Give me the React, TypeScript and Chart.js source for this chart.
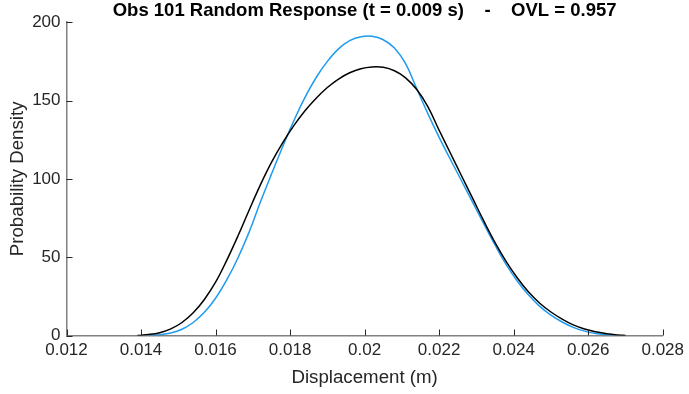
import React, { useEffect, useRef } from "react";
import { Chart, registerables } from "chart.js";

Chart.register(...registerables);

const titleText = "Obs 101 Random Response (t = 0.009 s)    -    OVL = 0.957";
const xLabel = "Displacement (m)";
const yLabel = "Probability Density";

const blackX = [0.0139, 0.0142, 0.0145, 0.0148, 0.0151, 0.0154, 0.0157, 0.016, 0.0163, 0.0166, 0.0169, 0.0172, 0.0175, 0.0178, 0.0181, 0.0184, 0.0187, 0.019, 0.0193, 0.0196, 0.0199, 0.0202, 0.0205, 0.0208, 0.0211, 0.0214, 0.0217, 0.022, 0.0223, 0.0226, 0.0229, 0.0232, 0.0235, 0.0238, 0.0241, 0.0244, 0.0247, 0.025, 0.0253, 0.0256, 0.0259, 0.0262, 0.0265, 0.0268, 0.027];
const blackY = [0, 0.6, 1.8, 4.2, 8.3, 14.5, 23, 34, 48, 63.5, 80, 96, 110.5, 123, 134, 143.5, 151.5, 158.3, 163.7, 167.7, 170.3, 171.4, 171.2, 169, 164.5, 157, 146, 131, 116.5, 102, 87.5, 73, 59.3, 47.2, 36.7, 27.7, 20.6, 15, 10.5, 6.8, 4.2, 2.4, 1.1, 0.3, 0];

const blueX = [0.0142, 0.0145, 0.0148, 0.0151, 0.0154, 0.0157, 0.016, 0.0163, 0.0166, 0.0169, 0.0172, 0.0175, 0.0178, 0.0181, 0.0184, 0.0187, 0.019, 0.0193, 0.0196, 0.0199, 0.0202, 0.0205, 0.0208, 0.0211, 0.0214, 0.0217, 0.022, 0.0223, 0.0226, 0.0229, 0.0232, 0.0235, 0.0238, 0.0241, 0.0244, 0.0247, 0.025, 0.0253, 0.0256, 0.0259, 0.0262, 0.0265, 0.0267];
const blueY = [0, 0.5, 1.6, 4, 8.3, 14.8, 23.8, 35.5, 49.5, 66, 85, 103, 120.5, 137, 152, 164.7, 175, 183, 188.2, 190.7, 191, 188.8, 183.5, 173.5, 157.5, 141.5, 126.5, 112.5, 98.8, 85, 71.2, 57.8, 45.2, 34.6, 25.8, 18.6, 13, 8.6, 5.2, 2.8, 1.3, 0.4, 0];

const FONT = "'Liberation Sans', Arial, Helvetica, sans-serif";
const AXIS_TEXT = "#262626";

const innerTicks = {
  id: "innerTicks",
  afterDatasetsDraw(chart: any) {
    const { ctx, scales } = chart;
    const xs = scales.x;
    const ys = scales.y;
    ctx.save();
    ctx.strokeStyle = AXIS_TEXT;
    ctx.lineWidth = 1;
    const yb = ys.getPixelForValue(0);
    xs.ticks.forEach((t: any) => {
      const px = Math.round(xs.getPixelForValue(t.value)) + 0.5;
      ctx.beginPath();
      ctx.moveTo(px, yb);
      ctx.lineTo(px, yb - 6);
      ctx.stroke();
    });
    const xl = xs.getPixelForValue(0.012);
    ys.ticks.forEach((t: any) => {
      const py = Math.round(ys.getPixelForValue(t.value)) + 0.5;
      ctx.beginPath();
      ctx.moveTo(xl, py);
      ctx.lineTo(xl + 6, py);
      ctx.stroke();
    });
    ctx.restore();
  },
};

export default function App() {
  const ref = useRef<HTMLCanvasElement | null>(null);
  useEffect(() => {
    document.body.style.margin = "0";
    const canvas = ref.current;
    if (!canvas) return;
    const chart = new Chart(canvas, {
      type: "scatter",
      data: {
        datasets: [
          {
            label: "black",
            data: blackX.map((x, i) => ({ x, y: blackY[i] })),
            showLine: true,
            borderColor: "#000000",
            borderWidth: 1.5,
            pointRadius: 0,
            tension: 0.4,
          },
          {
            label: "blue",
            data: blueX.map((x, i) => ({ x, y: blueY[i] })),
            showLine: true,
            borderColor: "#1f9bf0",
            borderWidth: 1.5,
            pointRadius: 0,
            tension: 0.4,
          },
        ],
      },
      options: {
        animation: false,
        responsive: false,
        maintainAspectRatio: false,
        layout: { padding: { left: 0, right: 24, top: 0, bottom: 0 } },
        plugins: {
          legend: { display: false },
          tooltip: { enabled: false },
          title: {
            display: true,
            fullSize: false,
            text: titleText,
            color: "#000000",
            font: { family: FONT, size: 18.5, weight: "bold", lineHeight: 1.2 },
            padding: { top: 0, bottom: 0 },
          },
        },
        scales: {
          x: {
            type: "linear",
            min: 0.012,
            max: 0.028,
            grid: { display: false, drawTicks: false },
            border: { display: true, color: "#808080", width: 1.5 },
            ticks: {
              stepSize: 0.002,
              color: AXIS_TEXT,
              font: { family: FONT, size: 17 },
              padding: 5,
              maxRotation: 0,
              autoSkip: false,
              callback: (v: any) => parseFloat(Number(v).toFixed(3)).toString(),
            },
            title: {
              display: true,
              text: xLabel,
              color: AXIS_TEXT,
              font: { family: FONT, size: 18.7 },
              padding: { top: 0, bottom: 5 },
            },
            afterFit: (s: any) => {
              s.height = 58.5;
            },
          },
          y: {
            min: 0,
            max: 200,
            grid: { display: false, drawTicks: false },
            border: { display: true, color: "#808080", width: 1.5 },
            ticks: {
              stepSize: 50,
              color: AXIS_TEXT,
              font: { family: FONT, size: 17 },
              padding: 6,
            },
            title: {
              display: true,
              text: yLabel,
              color: AXIS_TEXT,
              font: { family: FONT, size: 18.7 },
              padding: { top: 7, bottom: 0 },
            },
            afterFit: (s: any) => {
              s.width = 66.5;
            },
          },
        },
      },
      plugins: [innerTicks],
    });
    return () => chart.destroy();
  }, []);
  return (
    <div style={{ width: 689, height: 394, background: "#ffffff" }}>
      <canvas ref={ref} width={689} height={394} style={{ display: "block" }} />
    </div>
  );
}
